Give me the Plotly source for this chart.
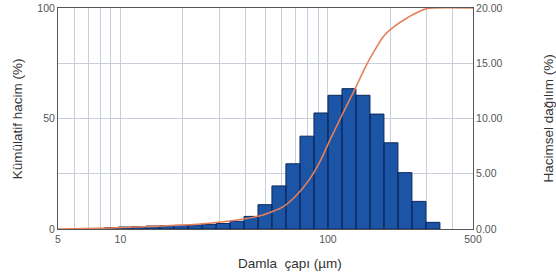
import plotly.graph_objects as go

# Histogram bins (µm) and volume distribution (%)
bin_lower = [8.36, 9.76, 11.4, 13.3, 15.5, 18.1, 21.2, 24.7, 28.9, 33.7, 39.4, 46.0, 53.7, 62.7,
             73.3, 85.6, 100.0, 116.8, 136.4, 159.4, 186.1, 217.4, 253.9, 296.6]
bin_upper = [9.76, 11.4, 13.3, 15.5, 18.1, 21.2, 24.7, 28.9, 33.7, 39.4, 46.0, 53.7, 62.7, 73.3,
             85.6, 100.0, 116.8, 136.4, 159.4, 186.1, 217.4, 253.9, 296.6, 346.4]
vol_pct = [0.12, 0.18, 0.22, 0.27, 0.30, 0.33, 0.37, 0.42, 0.50, 0.70, 1.14, 2.2, 3.9, 5.9,
           8.4, 10.5, 12.1, 12.7, 12.1, 10.4, 7.8, 5.1, 2.5, 0.6]

# Cumulative volume curve
cum_size = [5.0, 5.11, 8.9, 13.9, 24.2, 39.0, 48.6, 60.7, 70.9, 81.9, 91.5, 102.3, 118.2, 132.0,
            145.9, 156.0, 164.9, 184.2, 205.8, 240.4, 277.7, 300.0, 500.0]
cum_pct = [0.0, 0.0, 0.45, 1.13, 2.26, 4.5, 6.3, 10.0, 15.5, 22.8, 30.5, 40.3, 52.5, 61.5,
           70.1, 75.6, 79.6, 86.9, 91.2, 95.5, 98.5, 99.8, 100.0]

x_grid = [5, 6, 7, 8, 9, 10, 20, 30, 40, 50, 60, 70, 80, 90, 100, 200, 300, 400, 500]
x_labels = {5: "5", 10: "10", 100: "100", 500: "500"}

# Build bar polygons from bin data
bx, by = [], []
for lo, hi, v in zip(bin_lower, bin_upper, vol_pct):
    bx += [lo, lo, hi, hi, lo, None]
    by += [0, v, v, 0, 0, None]

fig = go.Figure()
fig.add_trace(go.Scatter(x=bx, y=by, mode="lines", fill="toself",
                         fillcolor="#1d55a6", line=dict(color="#0b285c", width=1),
                         yaxis="y", hoverinfo="skip", showlegend=False))
fig.add_trace(go.Scatter(x=cum_size, y=cum_pct, mode="lines",
                         line=dict(color="#e5805a", width=1.6, shape="spline", smoothing=0.6),
                         yaxis="y2", showlegend=False))

tick_font = dict(family="Liberation Sans, Arial, sans-serif", size=10.5, color="#555555")
title_font = dict(family="Liberation Sans, Arial, sans-serif", size=13.5, color="#333333")

fig.update_layout(
    width=556, height=276,
    margin=dict(l=58, r=83, t=8, b=47, autoexpand=False),
    paper_bgcolor="white", plot_bgcolor="white",
    xaxis=dict(type="log", range=[0.69897, 2.69897], automargin=False,
               tickvals=x_grid, ticktext=[x_labels.get(v, "") for v in x_grid],
               showgrid=True, gridcolor="#c9cfda", gridwidth=1,
               showline=True, linecolor="#555555", linewidth=1, mirror=True,
               ticks="", tickfont=tick_font, zeroline=False),
    yaxis=dict(range=[0, 20], side="right", tickvals=[0, 5, 10, 15, 20], automargin=False,
               ticktext=["0.00", "5.00", "10.00", "15.00", "20.00"],
               showgrid=True, gridcolor="#c9cfda", gridwidth=1,
               showline=True, linecolor="#555555", linewidth=1,
               ticks="", tickfont=tick_font, zeroline=False),
    yaxis2=dict(range=[0, 100], side="left", overlaying="y", automargin=False,
                tickvals=[0, 50, 100], ticktext=["0", "50", "100"],
                showgrid=False, showline=True, linecolor="#555555", linewidth=1,
                ticks="", tickfont=tick_font, zeroline=False),
    annotations=[
        dict(text="Kümülatif hacim (%)", xref="paper", yref="paper", x=-0.097, y=0.5,
             textangle=-90, showarrow=False, font=title_font, xanchor="center", yanchor="middle"),
        dict(text="Hacimsel dağılım (%)", xref="paper", yref="paper", x=1.181, y=0.5,
             textangle=-90, showarrow=False, font=title_font, xanchor="center", yanchor="middle"),
        dict(text="Damla  çapı (µm)", xref="paper", yref="paper", x=0.559, y=-0.154,
             showarrow=False, font=title_font, xanchor="center", yanchor="middle"),
    ],
)

fig.write_html("out.html", config={"displayModeBar": False},
               post_script="document.body.style.margin='0';")
